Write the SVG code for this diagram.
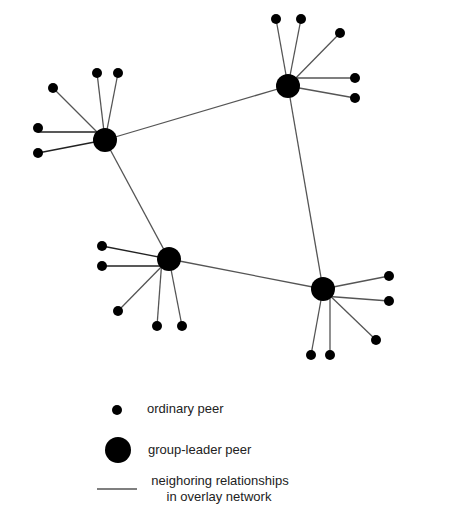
<svg xmlns="http://www.w3.org/2000/svg" width="451" height="522" viewBox="0 0 451 522">
<style>
.bg{fill:#ffffff}
.ln{stroke:#555;stroke-width:1.3;fill:none}
.dk{stroke:#222;stroke-width:1.3;fill:none}
.peer{fill:#000}
.leader{fill:#000}
.t{font-family:"Liberation Sans",Arial,sans-serif;font-size:13px;fill:#222}
</style>
<rect class="bg" x="0" y="0" width="451" height="522"/>
<g id="connectors">
<line class="ln" x1="105" y1="140" x2="288" y2="86"/>
<line class="ln" x1="105" y1="140" x2="169" y2="259"/>
<line class="ln" x1="169" y1="259" x2="323" y2="289"/>
<line class="ln" x1="288" y1="86" x2="323" y2="289"/>
<line class="ln" x1="105" y1="140" x2="53" y2="88"/>
<line class="ln" x1="105" y1="140" x2="97" y2="73"/>
<line class="ln" x1="105" y1="140" x2="118" y2="73"/>
<line class="dk" x1="105" y1="132" x2="38" y2="132"/>
<line class="dk" x1="105" y1="140" x2="38" y2="153"/>
<line class="ln" x1="288" y1="86" x2="276" y2="19"/>
<line class="ln" x1="288" y1="86" x2="301" y2="19"/>
<line class="ln" x1="288" y1="86" x2="340" y2="33"/>
<line class="ln" x1="288" y1="78" x2="355" y2="78"/>
<line class="ln" x1="288" y1="86" x2="355" y2="98"/>
<line class="dk" x1="169" y1="259" x2="102" y2="246"/>
<line class="dk" x1="169" y1="266" x2="102" y2="266"/>
<line class="ln" x1="169" y1="259" x2="118" y2="311"/>
<line class="ln" x1="162" y1="259" x2="157" y2="326"/>
<line class="ln" x1="169" y1="259" x2="182" y2="326"/>
<line class="ln" x1="323" y1="289" x2="389" y2="276"/>
<line class="ln" x1="323" y1="296" x2="389" y2="301"/>
<line class="ln" x1="323" y1="289" x2="376" y2="340"/>
<line class="ln" x1="323" y1="289" x2="311" y2="355"/>
<line class="ln" x1="330" y1="289" x2="330" y2="355"/>
</g>
<g id="leader-A"><circle class="leader" cx="105" cy="140" r="12"/></g>
<g id="leader-B"><circle class="leader" cx="288" cy="86" r="12"/></g>
<g id="leader-C"><circle class="leader" cx="169" cy="259" r="12"/></g>
<g id="leader-D"><circle class="leader" cx="323" cy="289" r="12"/></g>
<g id="peers-A">
<circle class="peer" cx="53" cy="88" r="5"/>
<circle class="peer" cx="97" cy="73" r="5"/>
<circle class="peer" cx="118" cy="73" r="5"/>
<circle class="peer" cx="38" cy="128" r="5"/>
<circle class="peer" cx="38" cy="153" r="5"/>
</g>
<g id="peers-B">
<circle class="peer" cx="276" cy="19" r="5"/>
<circle class="peer" cx="301" cy="19" r="5"/>
<circle class="peer" cx="340" cy="33" r="5"/>
<circle class="peer" cx="355" cy="78" r="5"/>
<circle class="peer" cx="355" cy="98" r="5"/>
</g>
<g id="peers-C">
<circle class="peer" cx="102" cy="246" r="5"/>
<circle class="peer" cx="102" cy="266" r="5"/>
<circle class="peer" cx="118" cy="311" r="5"/>
<circle class="peer" cx="157" cy="326" r="5"/>
<circle class="peer" cx="182" cy="326" r="5"/>
</g>
<g id="peers-D">
<circle class="peer" cx="389" cy="276" r="5"/>
<circle class="peer" cx="389" cy="301" r="5"/>
<circle class="peer" cx="376" cy="340" r="5"/>
<circle class="peer" cx="311" cy="355" r="5"/>
<circle class="peer" cx="330" cy="355" r="5"/>
</g>
<g id="legend">
<circle class="peer" cx="117" cy="410" r="5"/>
<text class="t" x="147" y="413">ordinary peer</text>
<circle class="leader" cx="118" cy="450" r="13"/>
<text class="t" x="148" y="454">group-leader peer</text>
<line class="ln" x1="97" y1="489" x2="137" y2="489"/>
<text class="t" x="220" y="485" text-anchor="middle">neighoring relationships</text>
<text class="t" x="219" y="501" text-anchor="middle">in overlay network</text>
</g>
</svg>
